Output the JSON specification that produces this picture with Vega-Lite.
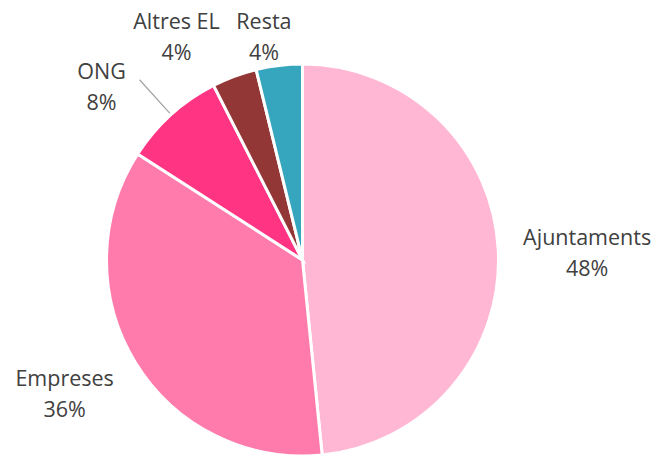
{
  "$schema": "https://vega.github.io/schema/vega-lite/v6.json",
  "autosize": "none",
  "width": 605,
  "height": 398,
  "padding": {"left": 0, "top": 61, "right": 51, "bottom": 0},
  "background": "white",
  "config": {"view": {"stroke": null}},
  "data": {
    "values": [
      {"cat": "Ajuntaments", "value": 48.4, "pct": "48%", "rank": 1},
      {"cat": "Empreses", "value": 35.7, "pct": "36%", "rank": 2},
      {"cat": "ONG", "value": 8.4, "pct": "8%", "rank": 3},
      {"cat": "Altres EL", "value": 3.7, "pct": "4%", "rank": 4},
      {"cat": "Resta", "value": 3.8, "pct": "4%", "rank": 5}
    ]
  },
  "transform": [
    {"stack": "value", "groupby": [], "sort": [{"field": "rank", "order": "ascending"}], "as": ["v0", "v1"]},
    {"calculate": "(datum.v0 + datum.v1) / 2", "as": "mid"},
    {"calculate": "[datum.cat, datum.pct]", "as": "label"}
  ],
  "layer": [
    {
      "mark": {"type": "arc", "outerRadius": 196, "stroke": "white", "strokeWidth": 3},
      "encoding": {
        "theta": {"field": "v0", "type": "quantitative", "stack": null, "scale": {"domain": [0, 100]}},
        "theta2": {"field": "v1"},
        "color": {
          "field": "cat",
          "type": "nominal",
          "legend": null,
          "scale": {
            "domain": ["Ajuntaments", "Empreses", "ONG", "Altres EL", "Resta"],
            "range": ["#FFB7D4", "#FF7BAB", "#FF3584", "#933636", "#36A6BE"]
          }
        }
      }
    },
    {
      "transform": [{"filter": "datum.cat === 'ONG'"}],
      "mark": {"type": "arc", "fill": null, "stroke": "#A6A6A6", "strokeWidth": 1.3},
      "encoding": {
        "theta": {"field": "mid", "type": "quantitative", "stack": null},
        "theta2": {"field": "mid"},
        "radius": {"value": 243},
        "radius2": {"value": 198}
      }
    },
    {
      "transform": [{"filter": "datum.cat === 'Ajuntaments'"}],
      "mark": {"type": "text", "font": "Open Sans", "fontSize": 21.5, "lineHeight": 31, "fill": "#404040", "align": "center", "baseline": "middle", "dy": -7},
      "encoding": {"theta": {"field": "mid", "type": "quantitative", "stack": null}, "radius": {"value": 285}, "text": {"field": "label"}}
    },
    {
      "transform": [{"filter": "datum.cat === 'Empreses'"}],
      "mark": {"type": "text", "font": "Open Sans", "fontSize": 21.5, "lineHeight": 31, "fill": "#404040", "align": "center", "baseline": "middle", "dy": -26},
      "encoding": {"theta": {"field": "mid", "type": "quantitative", "stack": null}, "radius": {"value": 279}, "text": {"field": "label"}}
    },
    {
      "transform": [{"filter": "datum.cat === 'ONG'"}],
      "mark": {"type": "text", "font": "Open Sans", "fontSize": 21.5, "lineHeight": 31, "fill": "#404040", "align": "center", "baseline": "middle", "dx": -40, "dy": -9},
      "encoding": {"theta": {"field": "mid", "type": "quantitative", "stack": null}, "radius": {"value": 240}, "text": {"field": "label"}}
    },
    {
      "transform": [{"filter": "datum.cat === 'Altres EL'"}],
      "mark": {"type": "text", "font": "Open Sans", "fontSize": 21.5, "lineHeight": 31, "fill": "#404040", "align": "center", "baseline": "middle", "dx": -44, "dy": -16},
      "encoding": {"theta": {"field": "mid", "type": "quantitative", "stack": null}, "radius": {"value": 236}, "text": {"field": "label"}}
    },
    {
      "transform": [{"filter": "datum.cat === 'Resta'"}],
      "mark": {"type": "text", "font": "Open Sans", "fontSize": 21.5, "lineHeight": 31, "fill": "#404040", "align": "center", "baseline": "middle", "dx": -12, "dy": -16},
      "encoding": {"theta": {"field": "mid", "type": "quantitative", "stack": null}, "radius": {"value": 223}, "text": {"field": "label"}}
    }
  ]
}
